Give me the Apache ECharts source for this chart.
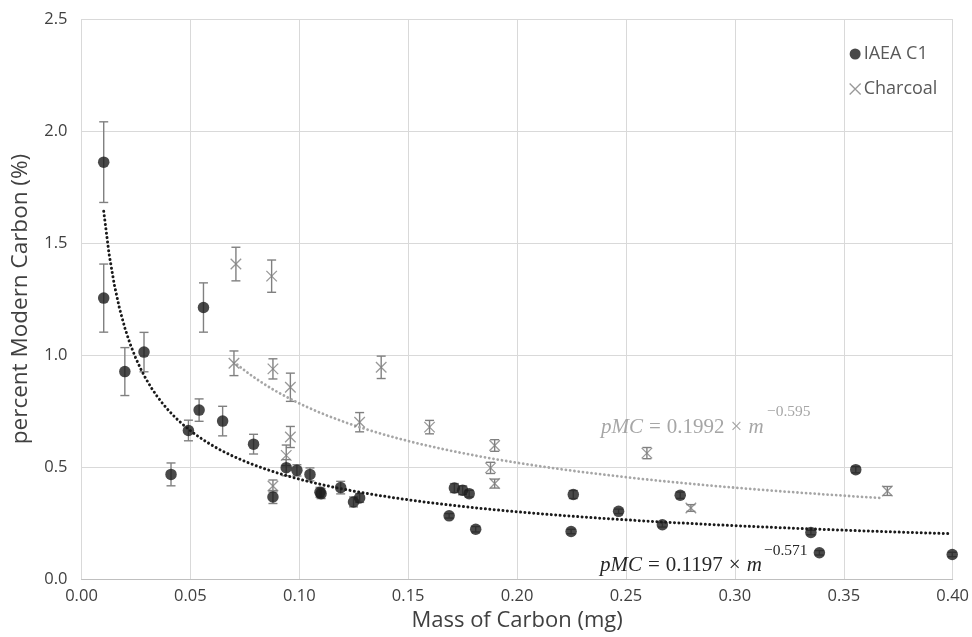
<!DOCTYPE html>
<html>
<head>
<meta charset="utf-8">
<script src="https://cdn.jsdelivr.net/npm/echarts@6/dist/echarts.min.js"></script>
<style>
html,body{margin:0;padding:0;background:#fff;}
#chart{width:972px;height:637px;}
</style>
</head>
<body>
<div id="chart"></div>
<script>
// ---- Data ----
const xTickValues = [0.00, 0.05, 0.10, 0.15, 0.20, 0.25, 0.30, 0.35, 0.40];
const yTickValues = [0.0, 0.5, 1.0, 1.5, 2.0, 2.5];

const seriesNames = ['IAEA C1', 'Charcoal'];

// IAEA C1: mass of carbon (mg), pMC (%), error (±)
const iaeaX   = [0.0102, 0.0102, 0.0199, 0.0287, 0.0411, 0.0491, 0.054, 0.056, 0.0648, 0.079, 0.0879, 0.094, 0.0989, 0.1049, 0.1095, 0.110, 0.119, 0.1249, 0.1277, 0.1688, 0.1712, 0.175, 0.178, 0.181, 0.2248, 0.2258, 0.2466, 0.2667, 0.2749, 0.3349, 0.3388, 0.3555, 0.3998];
const iaeaY   = [1.861, 1.254, 0.926, 1.013, 0.467, 0.663, 0.754, 1.212, 0.705, 0.602, 0.366, 0.497, 0.485, 0.467, 0.387, 0.381, 0.408, 0.344, 0.362, 0.282, 0.406, 0.396, 0.381, 0.222, 0.212, 0.377, 0.302, 0.242, 0.374, 0.2075, 0.117, 0.488, 0.1095];
const iaeaErr = [0.180, 0.152, 0.107, 0.088, 0.051, 0.046, 0.050, 0.110, 0.066, 0.044, 0.029, 0.036, 0.025, 0.029, 0.022, 0.022, 0.028, 0.022, 0.020, 0.010, 0.020, 0.020, 0.015, 0.012, 0.010, 0.018, 0.010, 0.010, 0.014, 0.010, 0.010, 0.014, 0.010];

// Charcoal
const charX   = [0.0709, 0.0873, 0.070, 0.0879, 0.0959, 0.0959, 0.094, 0.0879, 0.1277, 0.1376, 0.1598, 0.1897, 0.1878, 0.1897, 0.2596, 0.2798, 0.370];
const charY   = [1.406, 1.352, 0.963, 0.938, 0.856, 0.634, 0.552, 0.415, 0.700, 0.945, 0.678, 0.596, 0.496, 0.426, 0.562, 0.317, 0.393];
const charErr = [0.075, 0.072, 0.055, 0.045, 0.063, 0.047, 0.046, 0.027, 0.043, 0.050, 0.030, 0.026, 0.025, 0.020, 0.025, 0.015, 0.020];

// Power-law trendlines shown on the chart: pMC = a * m^b, drawn over [from, to]
const trendNames  = ['IAEA C1 trend', 'Charcoal trend'];
const trendA      = [0.1197, 0.1992];
const trendB      = [-0.571, -0.595];
const trendFrom   = [0.0102, 0.0700];
const trendTo     = [0.3990, 0.3680];

// ---- Build ----
function trendPoints(i) {
  const pts = [];
  const n = 160;
  for (let k = 0; k <= n; k++) {
    const m = trendFrom[i] + (trendTo[i] - trendFrom[i]) * k / n;
    pts.push([m, trendA[i] * Math.pow(m, trendB[i])]);
  }
  return pts;
}
const zip2 = (xs, ys) => xs.map((x, i) => [x, ys[i]]);
const errData = (xs, ys, es) => xs.map((x, i) => [x, ys[i] - es[i], ys[i] + es[i]]);

const GRAY = '#808080';
const crossPath = 'path://M0,0L10,10M0,10L10,0';
const FONT = 'Open Sans';

function errorBarRender(params, api) {
  const x = api.value(0), lo = api.value(1), hi = api.value(2);
  const p1 = api.coord([x, lo]);
  const p2 = api.coord([x, hi]);
  const c = 4.5;
  const st = { stroke: GRAY, lineWidth: 1.4, fill: null };
  return {
    type: 'group',
    children: [
      { type: 'line', shape: { x1: p1[0], y1: p1[1], x2: p2[0], y2: p2[1] }, style: st },
      { type: 'line', shape: { x1: p1[0] - c, y1: p1[1], x2: p1[0] + c, y2: p1[1] }, style: st },
      { type: 'line', shape: { x1: p2[0] - c, y1: p2[1], x2: p2[0] + c, y2: p2[1] }, style: st }
    ]
  };
}

const chart = echarts.init(document.getElementById('chart'), null, { renderer: 'canvas' });

const eqRich = (col) => ({
  i: { fontFamily: 'Liberation Serif', fontStyle: 'italic', fontSize: 21, fill: col },
  n: { fontFamily: 'Liberation Serif', fontSize: 21, fill: col },
  o: { fontFamily: 'Liberation Serif', fontSize: 21, fill: col, padding: [0, 6, 0, 6] }
});

const option = {
  backgroundColor: '#ffffff',
  animation: false,
  textStyle: { fontFamily: FONT },
  grid: { left: 81.5, right: 18.5, top: 19, bottom: 56.5, containLabel: false },
  legend: {
    orient: 'vertical',
    left: 844,
    top: 40,
    itemGap: 17,
    itemWidth: 11,
    itemHeight: 11,
    textStyle: { fontFamily: FONT, fontSize: 18, color: '#595959', padding: [0, 0, 0, -2] },
    data: [
      { name: seriesNames[0], icon: 'circle' },
      { name: seriesNames[1], icon: crossPath,
        itemStyle: { color: 'transparent', borderColor: GRAY, borderWidth: 1.3 } }
    ]
  },
  xAxis: {
    type: 'value',
    min: xTickValues[0],
    max: xTickValues[xTickValues.length - 1],
    interval: 0.05,
    name: 'Mass of Carbon (mg)',
    nameLocation: 'middle',
    nameGap: 31,
    nameTextStyle: { fontFamily: FONT, fontSize: 22, color: '#404040' },
    axisLine: { show: true, lineStyle: { color: '#bfbfbf', width: 1 } },
    axisTick: { show: false },
    axisLabel: {
      margin: 9, fontFamily: FONT, fontSize: 16.5, color: '#404040',
      formatter: v => v.toFixed(2)
    },
    splitLine: { show: true, lineStyle: { color: '#d9d9d9', width: 1 } }
  },
  yAxis: {
    type: 'value',
    min: yTickValues[0],
    max: yTickValues[yTickValues.length - 1],
    interval: 0.5,
    name: 'percent Modern Carbon (%)',
    nameLocation: 'middle',
    nameGap: 49,
    nameTextStyle: { fontFamily: FONT, fontSize: 22.5, color: '#404040' },
    axisLine: { show: false },
    axisTick: { show: false },
    axisLabel: {
      margin: 14, fontFamily: FONT, fontSize: 16.5, color: '#404040',
      formatter: v => v.toFixed(1)
    },
    splitLine: { show: true, lineStyle: { color: '#d9d9d9', width: 1 } }
  },
  series: [
    {
      name: 'IAEA C1 error', type: 'custom', renderItem: errorBarRender,
      data: errData(iaeaX, iaeaY, iaeaErr), z: 2, silent: true,
      encode: { x: 0, y: [1, 2] }
    },
    {
      name: 'Charcoal error', type: 'custom', renderItem: errorBarRender,
      data: errData(charX, charY, charErr), z: 2, silent: true,
      encode: { x: 0, y: [1, 2] }
    },
    {
      name: trendNames[1], type: 'line', data: trendPoints(1), showSymbol: false, z: 3,
      lineStyle: { color: '#a6a6a6', width: 2.8, type: [0.01, 4.3], cap: 'round' }
    },
    {
      name: trendNames[0], type: 'line', data: trendPoints(0), showSymbol: false, z: 3,
      lineStyle: { color: '#1a1a1a', width: 3, type: [0.01, 4.4], cap: 'round' }
    },
    {
      name: seriesNames[1], type: 'scatter', data: zip2(charX, charY),
      symbol: crossPath, symbolSize: 10.5, z: 4,
      itemStyle: { color: 'transparent', borderColor: GRAY, borderWidth: 1.3 }
    },
    {
      name: seriesNames[0], type: 'scatter', data: zip2(iaeaX, iaeaY),
      symbol: 'circle', symbolSize: 11.5, z: 5,
      itemStyle: { color: '#1c1c1c' }
    }
  ],
  graphic: [
    {
      type: 'text', left: 601, top: 417, z: 10,
      style: { rich: eqRich('#a6a6a6'), text: '{i|pMC}{o|=}{n|0.1992}{o|×}{i|m}' }
    },
    {
      type: 'text', left: 767, top: 404, z: 10,
      style: { text: '−0.595', fontFamily: 'Liberation Serif', fontSize: 15.5, fill: '#a6a6a6' }
    },
    {
      type: 'text', left: 600, top: 555, z: 10,
      style: { rich: eqRich('#262626'), text: '{i|pMC}{o|=}{n|0.1197}{o|×}{i|m}' }
    },
    {
      type: 'text', left: 764, top: 543, z: 10,
      style: { text: '−0.571', fontFamily: 'Liberation Serif', fontSize: 15.5, fill: '#262626' }
    }
  ]
};

chart.setOption(option);
</script>
</body>
</html>
